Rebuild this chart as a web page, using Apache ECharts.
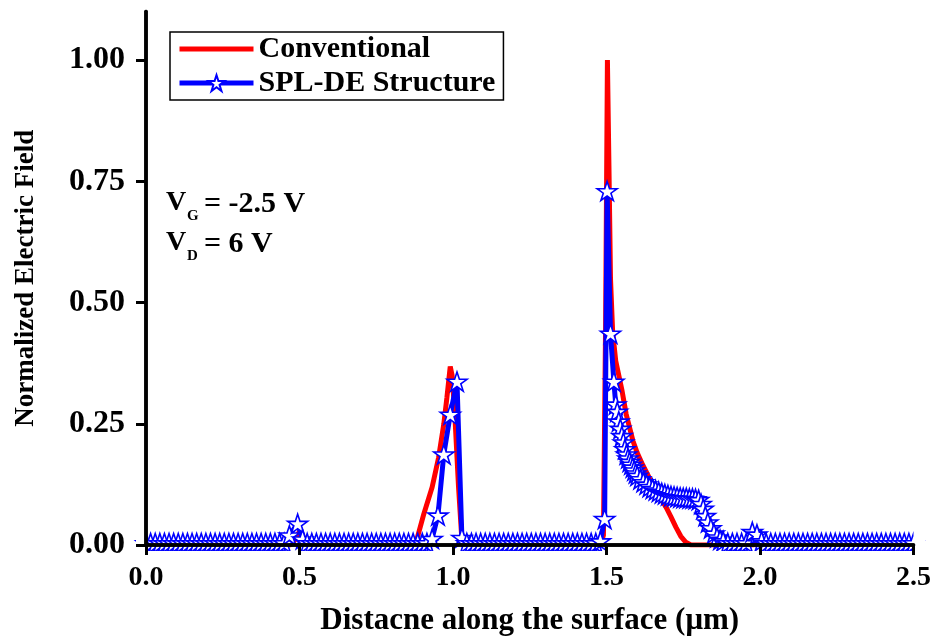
<!DOCTYPE html>
<html>
<head>
<meta charset="utf-8">
<script src="https://cdn.jsdelivr.net/npm/echarts@6/dist/echarts.min.js"></script>
<style>html,body{margin:0;padding:0;background:#fff}#c{width:939px;height:641px}</style>
</head>
<body>
<div id="c"></div>
<script>
// ---- data ----
var seriesNames = ['Conventional', 'SPL-DE Structure'];
var xTickValues = [0.0, 0.5, 1.0, 1.5, 2.0, 2.5];
var yTickValues = [0.00, 0.25, 0.50, 0.75, 1.00];

var convX = [0, 0.47, 0.485, 0.50, 0.51, 0.525, 0.87, 0.883, 0.905, 0.932, 0.953, 0.970, 0.980, 0.991, 0.997, 1.005, 1.018, 1.03,
  1.48, 1.49, 1.497, 1.503, 1.508, 1.513, 1.520, 1.530, 1.540, 1.550, 1.564, 1.586, 1.600, 1.618, 1.640, 1.661, 1.680, 1.694,
  1.710, 1.726, 1.742, 1.758, 1.775, 1.98, 1.995, 2.01, 2.5];
var convY = [0, 0, 0.01, 0.028, 0.02, 0, 0, 0.013, 0.064, 0.119, 0.18, 0.249, 0.303, 0.368, 0.35, 0.28, 0.12, 0,
  0, 0.02, 0.45, 1.00, 0.78, 0.55, 0.44, 0.38, 0.35, 0.32, 0.27, 0.215, 0.19, 0.165, 0.138, 0.112, 0.093, 0.078,
  0.058, 0.037, 0.018, 0.006, 0, 0, 0.012, 0, 0];

var splX = [
  0, 0.015, 0.03, 0.045, 0.06, 0.075, 0.09, 0.105, 0.12, 0.135, 0.15, 0.165, 0.18, 0.195, 0.21, 0.225, 0.24, 0.255, 0.27, 0.285,
  0.3, 0.315, 0.33, 0.345, 0.36, 0.375, 0.39, 0.405, 0.42, 0.435, 0.45,
  0.467, 0.494, 0.51,
  0.525, 0.54, 0.555, 0.57, 0.585, 0.6, 0.615, 0.63, 0.645, 0.66, 0.675, 0.69, 0.705, 0.72, 0.735, 0.75, 0.765, 0.78, 0.795,
  0.81, 0.825, 0.84, 0.855, 0.87, 0.885, 0.9, 0.915,
  0.932, 0.951, 0.970, 0.991, 1.013, 1.029,
  1.045, 1.06, 1.075, 1.09, 1.105, 1.12, 1.135, 1.15, 1.165, 1.18, 1.195, 1.21, 1.225, 1.24, 1.255, 1.27, 1.285, 1.3, 1.315,
  1.33, 1.345, 1.36, 1.375, 1.39, 1.405, 1.42, 1.435, 1.45, 1.465,
  1.48, 1.494, 1.502, 1.513, 1.524, 1.530,
  1.535, 1.540, 1.545, 1.550, 1.555, 1.560, 1.565, 1.570, 1.575, 1.580, 1.585, 1.590, 1.595, 1.600, 1.610, 1.620, 1.630,
  1.640, 1.650, 1.660, 1.670, 1.680, 1.690, 1.700, 1.710, 1.720, 1.730, 1.740, 1.750, 1.760, 1.770, 1.780, 1.790, 1.800,
  1.808, 1.815, 1.822, 1.830, 1.840, 1.850, 1.860, 1.870, 1.880,
  1.895, 1.91, 1.925, 1.94, 1.955,
  1.975, 1.99, 2.005,
  2.02, 2.035, 2.05, 2.065, 2.08, 2.095, 2.11, 2.125, 2.14, 2.155, 2.17, 2.185, 2.2, 2.215, 2.23, 2.245, 2.26, 2.275, 2.29,
  2.305, 2.32, 2.335, 2.35, 2.365, 2.38, 2.395, 2.41, 2.425, 2.44, 2.455, 2.47, 2.485, 2.5];
var splY = [
  0.004, 0.004, 0.004, 0.004, 0.004, 0.004, 0.004, 0.004, 0.004, 0.004, 0.004, 0.004, 0.004, 0.004, 0.004, 0.004, 0.004, 0.004, 0.004, 0.004,
  0.004, 0.004, 0.004, 0.004, 0.004, 0.004, 0.004, 0.004, 0.004, 0.004, 0.004,
  0.02, 0.044, 0.012,
  0.004, 0.004, 0.004, 0.004, 0.004, 0.004, 0.004, 0.004, 0.004, 0.004, 0.004, 0.004, 0.004, 0.004, 0.004, 0.004, 0.004, 0.004, 0.004,
  0.004, 0.004, 0.004, 0.004, 0.004, 0.004, 0.004, 0.004,
  0.013, 0.061, 0.187, 0.269, 0.337, 0.015,
  0.004, 0.004, 0.004, 0.004, 0.004, 0.004, 0.004, 0.004, 0.004, 0.004, 0.004, 0.004, 0.004, 0.004, 0.004, 0.004, 0.004, 0.004, 0.004,
  0.004, 0.004, 0.004, 0.004, 0.004, 0.004, 0.004, 0.004, 0.004, 0.004,
  0.008, 0.054, 0.73, 0.436, 0.337, 0.29,
  0.275, 0.255, 0.240, 0.225, 0.212, 0.198, 0.187, 0.179, 0.172, 0.166, 0.160, 0.154, 0.148, 0.143, 0.136, 0.130, 0.125,
  0.120, 0.116, 0.113, 0.110, 0.107, 0.105, 0.103, 0.101, 0.100, 0.099, 0.098, 0.097, 0.097, 0.096, 0.096, 0.095, 0.093,
  0.085, 0.075, 0.060, 0.047, 0.035, 0.024, 0.016, 0.011, 0.008,
  0.004, 0.004, 0.004, 0.004, 0.004,
  0.027, 0.022, 0.008,
  0.004, 0.004, 0.004, 0.004, 0.004, 0.004, 0.004, 0.004, 0.004, 0.004, 0.004, 0.004, 0.004, 0.004, 0.004, 0.004, 0.004, 0.004, 0.004,
  0.004, 0.004, 0.004, 0.004, 0.004, 0.004, 0.004, 0.004, 0.004, 0.004, 0.004, 0.004, 0.004, 0.004];

// ---- chart ----
var FONT = "'Liberation Serif', 'Times New Roman', serif";
function pairs(xs, ys) { return xs.map(function (x, i) { return [x, ys[i]]; }); }
var STAR = 'path://M50,2 L61.2,36.2 L97,36.2 L68,57.3 L79.2,91.5 L50,70.4 L20.8,91.5 L32,57.3 L3,36.2 L38.8,36.2 Z';
var RED_ICON = 'path://M0,0 L0.01,0 L0.01,0.01 Z M0,20 L0.01,20 L0.01,19.99 Z M0,7.5 L74,7.5 L74,12.5 L0,12.5 Z';

var G = { left: 146, right: 25.5, top: 11.5, bottom: 91 };
var W = 939, H = 641;
var plotBottom = H - G.bottom, plotRight = W - G.right;

var chart = echarts.init(document.getElementById('c'), null, { renderer: 'canvas' });
var axisLineStyle = { color: '#000', width: 3.5 };
chart.setOption({
  animation: false,
  backgroundColor: '#fff',
  grid: G,
  legend: {
    data: [{ name: seriesNames[0], icon: RED_ICON, itemStyle: { color: '#ff0000' } }, { name: seriesNames[1] }],
    orient: 'vertical',
    left: 170, top: 32,
    itemWidth: 74, itemHeight: 20, itemGap: 4,
    padding: [2, 8, 2, 7],
    borderColor: '#000', borderWidth: 1.5,
    backgroundColor: '#fff',
    lineStyle: { width: 5 },
    textStyle: { fontFamily: FONT, fontWeight: 'bold', fontSize: 30, color: '#000' },
    z: 20
  },
  xAxis: [{
    type: 'value', min: 0, max: 2.5, interval: 0.5, z: 10,
    axisLine: { lineStyle: axisLineStyle },
    axisTick: { length: 10, lineStyle: { width: 3, color: '#000' } },
    axisLabel: { fontFamily: FONT, fontWeight: 'bold', fontSize: 28, color: '#000', margin: 19,
      formatter: function (v) { return xTickValues.indexOf(v) >= 0 ? v.toFixed(1) : ''; } },
    splitLine: { show: false },
    name: 'Distacne along the surface (μm)', nameLocation: 'middle', nameGap: 60,
    nameTextStyle: { fontFamily: FONT, fontWeight: 'bold', fontSize: 31, color: '#000' }
  }, {
    type: 'value', position: 'top', min: 0, max: 2.5, z: 10,
    axisLine: { lineStyle: axisLineStyle }, axisTick: { show: false }, axisLabel: { show: false }, splitLine: { show: false }
  }],
  yAxis: [{
    type: 'value', min: 0, max: 1.1, interval: 0.25, z: 10,
    axisLine: { lineStyle: axisLineStyle },
    axisTick: { length: 10, lineStyle: { width: 3, color: '#000' } },
    axisLabel: { fontFamily: FONT, fontWeight: 'bold', fontSize: 32, color: '#000', margin: 21, showMaxLabel: false,
      formatter: function (v) { return yTickValues.indexOf(v) >= 0 ? v.toFixed(2) : ''; } },
    splitLine: { show: false },
    name: 'Normalized Electric Field', nameLocation: 'middle', nameGap: 106,
    nameTextStyle: { fontFamily: FONT, fontWeight: 'bold', fontSize: 27, color: '#000' }
  }, {
    type: 'value', position: 'right', min: 0, max: 1.1, z: 10,
    axisLine: { lineStyle: axisLineStyle }, axisTick: { show: false }, axisLabel: { show: false }, splitLine: { show: false }
  }],
  graphic: [
    // clip area outside the plot frame (symbols spilling past the axes)
    { type: 'rect', z: 5, shape: { x: G.left - 10, y: plotBottom + 1, width: plotRight - G.left + 22, height: 14 }, style: { fill: '#fff' } },
    { type: 'rect', z: 5, shape: { x: G.left - 10, y: plotBottom - 20, width: 10, height: 30 }, style: { fill: '#fff' } },
    { type: 'rect', z: 5, shape: { x: plotRight, y: plotBottom - 20, width: 12, height: 30 }, style: { fill: '#fff' } },
    // annotations
    { type: 'text', z: 20, left: 166, top: 189, style: { text: 'V', font: 'bold 28px ' + FONT, fill: '#000' } },
    { type: 'text', z: 20, left: 187, top: 209, style: { text: 'G', font: 'bold 15px ' + FONT, fill: '#000' } },
    { type: 'text', z: 20, left: 204, top: 189, style: { text: '= -2.5 V', font: 'bold 30px ' + FONT, fill: '#000' } },
    { type: 'text', z: 20, left: 166, top: 229, style: { text: 'V', font: 'bold 28px ' + FONT, fill: '#000' } },
    { type: 'text', z: 20, left: 187, top: 249, style: { text: 'D', font: 'bold 15px ' + FONT, fill: '#000' } },
    { type: 'text', z: 20, left: 204, top: 229, style: { text: '= 6 V', font: 'bold 30px ' + FONT, fill: '#000' } }
  ],
  series: [{
    name: seriesNames[0], type: 'line', data: pairs(convX, convY),
    symbol: 'none', lineStyle: { color: '#ff0000', width: 5 }, itemStyle: { color: '#ff0000' }, z: 2
  }, {
    name: seriesNames[1], type: 'line', data: pairs(splX, splY),
    symbol: STAR, symbolSize: 20, showSymbol: true, symbolKeepAspect: true,
    lineStyle: { color: '#0000ff', width: 5 },
    itemStyle: { color: '#ffffff', borderColor: '#0000ff', borderWidth: 1.6 }, z: 3
  }]
});
</script>
</body>
</html>
